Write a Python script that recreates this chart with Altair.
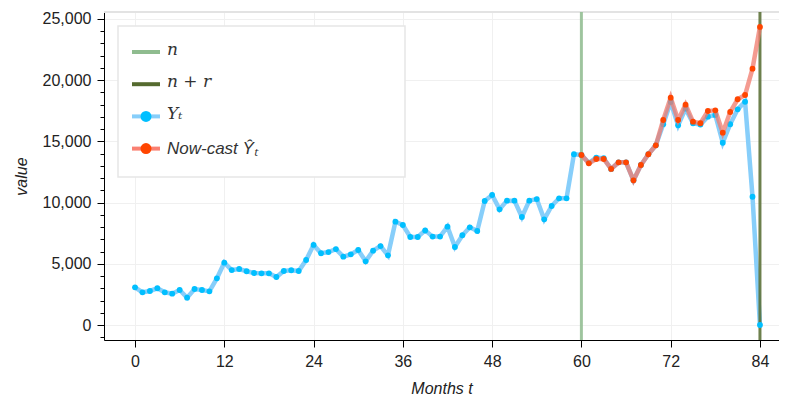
import altair as alt
import pandas as pd

# ---- data ----
months = list(range(85))
y_values = [3080, 2670, 2780, 3000, 2670, 2560, 2860, 2230, 2940, 2860,
            2750, 3810, 5090, 4490, 4575, 4390, 4250, 4220, 4220, 3920,
            4410, 4470, 4410, 5310, 6540, 5860, 5960, 6200, 5580, 5770,
            6130, 5200, 6070, 6450, 5690, 8440, 8170, 7190, 7190, 7730,
            7220, 7220, 8030, 6370, 7330, 7980, 7680, 10130, 10620, 9450,
            10160, 10160, 8820, 10160, 10290, 8630, 9720, 10350, 10350, 13950,
            13890, 13250, 13670, 13620, 12750, 13290, 13290, 11820, 13070, 13950,
            14680, 16400, 18220, 16310, 17670, 16480, 16370, 17020, 17160, 14890,
            16400, 17620, 18240, 10480, 0]
nowcast_months = list(range(60, 85))
nowcast_values = [13890, 13210, 13560, 13560, 12750, 13290, 13290, 11820, 13070, 13950,
                  14680, 16750, 18570, 16750, 18000, 16610, 16480, 17480, 17540, 15710,
                  17400, 18440, 18790, 20940, 24350]
vline_months = [60, 84]
vline_labels = ["n", "n + r"]
legend_labels = ["n", "n + r", "Yₜ", "Now-cast Ŷₜ"]
x_ticks = [0, 12, 24, 36, 48, 60, 72, 84]
y_ticks = list(range(-1000, 26000, 1000))

df_y = pd.DataFrame({"t": months, "value": y_values})
df_nc = pd.DataFrame({"t": nowcast_months, "value": nowcast_values})
df_v = pd.DataFrame({"t": vline_months, "label": vline_labels})
df_one = pd.DataFrame({"k": [0]})

W, H = 675, 328
x_scale = alt.Scale(domain=[-4.17, 86.56], nice=False, zero=False)
y_scale = alt.Scale(domain=[-1225, 25570], nice=False, zero=False)

FONT = "Liberation Sans"

x_axis = alt.Axis(values=x_ticks, labelFontSize=16, titleFontSize=16,
                  titleFontStyle="italic", titleFontWeight="normal",
                  labelFont=FONT, titleFont=FONT,
                  labelColor="#222", titleColor="#222",
                  domainColor="#000", tickColor="#000", tickSize=7,
                  labelPadding=6, titlePadding=11,
                  gridColor="#f0f0f0", labelFlush=False)
y_axis = alt.Axis(values=y_ticks,
                  labelExpr="datum.value % 5000 === 0 ? datum.label : ''",
                  format=",d", labelOverlap=False,
                  tickSize={"condition": {"test": "datum.value % 5000 === 0", "value": 7}, "value": 4},
                  gridOpacity={"condition": {"test": "datum.value % 5000 === 0", "value": 1}, "value": 0},
                  gridColor="#f0f0f0",
                  labelFontSize=16, titleFontSize=16,
                  titleFontStyle="italic", titleFontWeight="normal",
                  labelFont=FONT, titleFont=FONT,
                  labelColor="#222", titleColor="#222",
                  domainColor="#000", tickColor="#000",
                  labelPadding=6, titlePadding=13, labelFlush=False)
x_enc = alt.X("t:Q", scale=x_scale, title="Months t", axis=x_axis)
y_enc = alt.Y("value:Q", scale=y_scale, title="value", axis=y_axis)

top_border = alt.Chart(df_one).mark_rule(color="#e3e3e3", strokeWidth=2).encode(
    x=alt.value(0), x2=alt.value(W), y=alt.value(0))

vlines = alt.Chart(df_v).mark_rule(strokeWidth=3).encode(
    x=x_enc,
    color=alt.Color("label:N", scale=alt.Scale(domain=vline_labels, range=["#8fbc8f", "#556b2f"]),
                    legend=None),
    opacity=alt.value(0.85))

y_line = alt.Chart(df_y).mark_line(color="#87cefa", strokeWidth=4.5).encode(x=x_enc, y=y_enc)
y_pts = alt.Chart(df_y).mark_circle(color="#00bfff", size=34, opacity=1).encode(x=x_enc, y=y_enc)
nc_line = alt.Chart(df_nc).mark_line(color="#f07a6c", strokeWidth=4.5, opacity=0.75).encode(x=x_enc, y=y_enc)
nc_pts = alt.Chart(df_nc).mark_circle(color="#ff4500", size=34, opacity=1).encode(x=x_enc, y=y_enc)

# ---- legend (decoration) ----
leg_layers = [alt.Chart(df_one).mark_rect(fill="white", stroke="#e6e6e6", strokeWidth=1.5).encode(
    x=alt.value(14), x2=alt.value(301), y=alt.value(14), y2=alt.value(165))]
line_cols = ["#8fbc8f", "#556b2f", "#87cefa", "#fa8072"]
dot_cols = [None, None, "#00bfff", "#ff4500"]
for i, lab in enumerate(legend_labels):
    py = 40 + i * 32.2
    leg_layers.append(alt.Chart(df_one).mark_rule(strokeWidth=4, color=line_cols[i]).encode(
        x=alt.value(28), x2=alt.value(56), y=alt.value(py)))
    if dot_cols[i]:
        leg_layers.append(alt.Chart(df_one).mark_circle(size=120, opacity=1, color=dot_cols[i]).encode(
            x=alt.value(42), y=alt.value(py)))
    is_math = i < 3
    leg_layers.append(alt.Chart(df_one).mark_text(
        align="left", baseline="middle",
        font="DejaVu Serif" if is_math else FONT, fontStyle="italic",
        fontSize=17, color="#333").encode(
        x=alt.value(63), y=alt.value(py - 2 if is_math else py), text=alt.value(lab)))

chart = alt.layer(
    y_line, top_border, vlines, y_pts, nc_line, nc_pts, *leg_layers
).resolve_scale(color="independent").properties(
    width=W, height=H,
    autosize=alt.AutoSizeParams(type="none"),
    padding={"left": 96, "top": 4, "right": 0, "bottom": 62},
).configure_view(stroke=None).configure(background="white")

chart.save("out.html", embed_options={"renderer": "svg", "actions": False})
